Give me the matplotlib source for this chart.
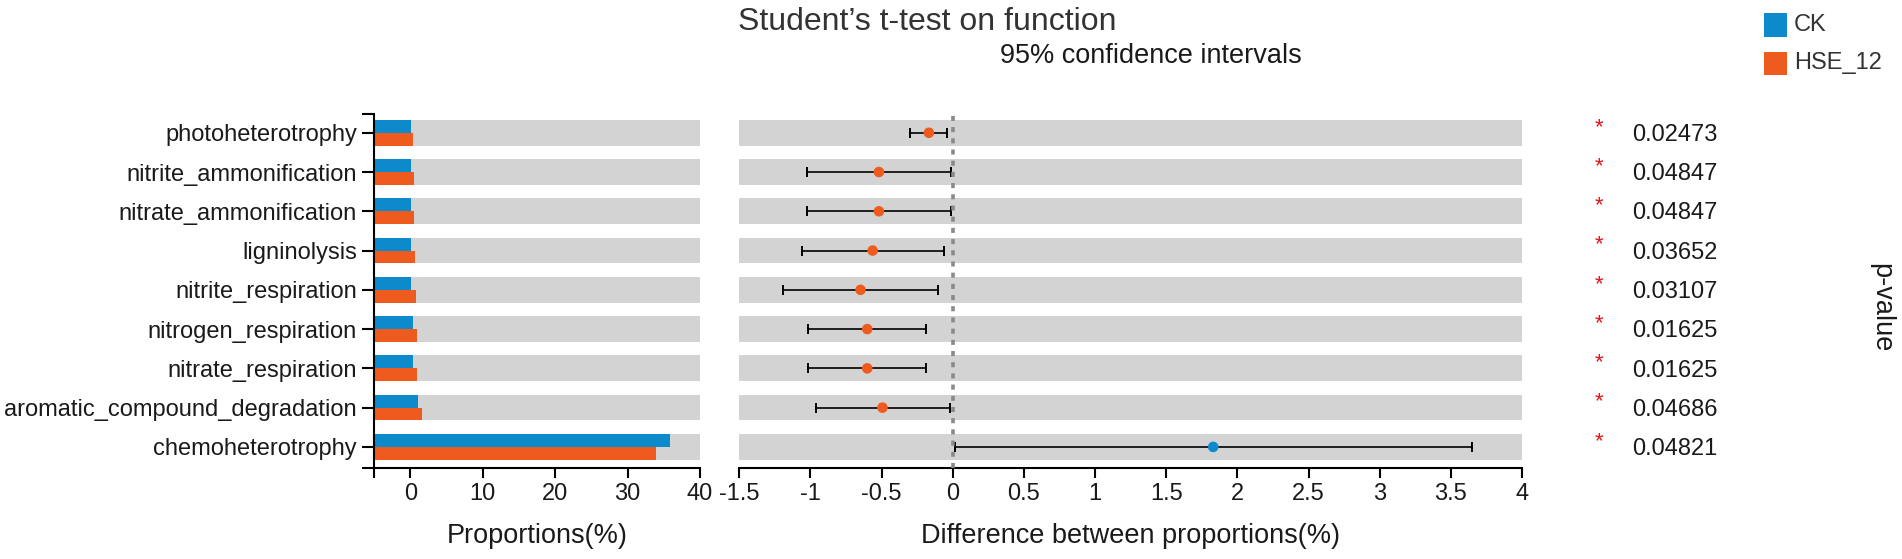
import numpy as np
import matplotlib
matplotlib.use('Agg')
import matplotlib.pyplot as plt
from matplotlib.transforms import ScaledTranslation
from matplotlib.patches import Rectangle

# ---------------- data ----------------
categories = ['photoheterotrophy', 'nitrite_ammonification', 'nitrate_ammonification',
              'ligninolysis', 'nitrite_respiration', 'nitrogen_respiration',
              'nitrate_respiration', 'aromatic_compound_degradation', 'chemoheterotrophy']
groups = ['CK', 'HSE_12']
ck_prop = [0.13, 0.02, 0.02, 0.02, 0.13, 0.32, 0.32, 1.05, 35.85]
hse_prop = [0.32, 0.52, 0.52, 0.60, 0.78, 0.96, 0.96, 1.56, 33.96]
diff_mean = [-0.168, -0.519, -0.519, -0.563, -0.648, -0.601, -0.601, -0.494, 1.83]
ci_low = [-0.297, -1.027, -1.027, -1.062, -1.196, -1.014, -1.014, -0.964, 0.014]
ci_high = [-0.040, -0.012, -0.012, -0.065, -0.102, -0.187, -0.187, -0.021, 3.65]
p_values = ['0.02473', '0.04847', '0.04847', '0.03652', '0.03107',
            '0.01625', '0.01625', '0.04686', '0.04821']
prop_ticks = [0, 10, 20, 30, 40]
diff_ticks = [-1.5, -1, -0.5, 0, 0.5, 1, 1.5, 2, 2.5, 3, 3.5, 4]
diff_tick_labels = ['-1.5', '-1', '-0.5', '0', '0.5', '1', '1.5', '2', '2.5', '3', '3.5', '4']

# ---------------- style ----------------
plt.rcParams['font.family'] = ['Liberation Sans', 'DejaVu Sans']
C_CK = '#0c8acb'
C_HSE = '#ef5a1f'
C_BAND = '#d3d3d3'
TXT = '#1a1a1a'
W, H = 1902, 559
PROP_MIN, PROP_MAX = -5, 40
DIFF_MIN, DIFF_MAX = -1.5, 4
Y_TOP, Y_BOT = -0.47, 8.53
TICK_LEN = 7
TICK_W = 1.5
TICK_FS = 17
LABEL_FS = 19.5

fig = plt.figure(figsize=(W / 100, H / 100), dpi=100)
ax_bottom = 1 - 467.7 / H
ax_h = (467.7 - 114.3) / H
ax1 = fig.add_axes([374.3 / W, ax_bottom, (700 - 374.3) / W, ax_h])
ax2 = fig.add_axes([739.3 / W, ax_bottom, (1522 - 739.3) / W, ax_h])

y = np.arange(len(categories))
ck = np.array(ck_prop)
hse = np.array(hse_prop)
dm = np.array(diff_mean)
lo = np.array(ci_low)
hi = np.array(ci_high)

band_h = 0.655
bar_h = band_h / 2

# ---------------- left panel ----------------
ax1.barh(y, PROP_MAX - PROP_MIN, left=PROP_MIN, height=band_h, color=C_BAND, zorder=1)
ax1.barh(y - bar_h / 2, ck - PROP_MIN, left=PROP_MIN, height=bar_h, color=C_CK, zorder=2)
ax1.barh(y + bar_h / 2, hse - PROP_MIN, left=PROP_MIN, height=bar_h, color=C_HSE, zorder=2)
ax1.set_xlim(PROP_MIN, PROP_MAX)
ax1.set_ylim(Y_BOT, Y_TOP)
ax1.set_yticks(y)
ax1.set_yticklabels(categories, fontsize=TICK_FS, color=TXT)
ax1.set_yticks([Y_TOP, Y_BOT], minor=True)
ax1.set_xticks(prop_ticks)
ax1.set_xticklabels([str(t) for t in prop_ticks], fontsize=TICK_FS, color=TXT)
ax1.set_xticks([PROP_MIN], minor=True)
for s in ['top', 'right']:
    ax1.spines[s].set_visible(False)
for s in ['left', 'bottom']:
    ax1.spines[s].set_linewidth(TICK_W)
    ax1.spines[s].set_color('black')
ax1.tick_params(axis='y', which='both', length=8.5, width=TICK_W, pad=4)
ax1.tick_params(axis='x', which='both', length=TICK_LEN, width=TICK_W, pad=4)
ax1.set_xlabel('Proportions(%)', fontsize=LABEL_FS, color=TXT, labelpad=13)

# ---------------- middle panel ----------------
ax2.barh(y, DIFF_MAX - DIFF_MIN, left=DIFF_MIN, height=band_h, color=C_BAND, zorder=1)
ax2.errorbar(dm, y, xerr=[dm - lo, hi - dm], fmt='none', ecolor='black',
             elinewidth=1.2, capsize=3.4, capthick=1.4, zorder=2)
ax2.axvline(0, color='#8a8a8a', lw=2.6, ls=(0, (1.4, 1.7)), zorder=3)
pt_colors = [C_HSE if d < 0 else C_CK for d in diff_mean]
ax2.scatter(dm, y, s=7.6 ** 2, c=pt_colors, zorder=4, linewidths=0)
ax2.set_xlim(DIFF_MIN, DIFF_MAX)
ax2.set_ylim(Y_BOT, Y_TOP)
ax2.set_yticks([])
ax2.set_xticks(diff_ticks)
ax2.set_xticklabels(diff_tick_labels, fontsize=TICK_FS, color=TXT)
for s in ['top', 'right', 'left']:
    ax2.spines[s].set_visible(False)
ax2.spines['bottom'].set_linewidth(TICK_W)
ax2.tick_params(axis='x', length=TICK_LEN, width=TICK_W, pad=4)
ax2.set_xlabel('Difference between proportions(%)', fontsize=LABEL_FS, color=TXT, labelpad=13)

# ---------------- p-values ----------------
ytr = ax2.get_yaxis_transform()
num_tr = ytr + ScaledTranslation(0, -0.082, fig.dpi_scale_trans)
star_tr = ytr + ScaledTranslation(0, 0.0, fig.dpi_scale_trans)
x_star = (1599 - 739.3) / (1522 - 739.3)
x_num = (1631.7 - 739.3) / (1522 - 739.3)
for yi, pv in zip(y, p_values):
    ax2.text(x_star, yi, '*', transform=star_tr, ha='center', va='baseline',
             fontsize=16, color='#e8141c', clip_on=False)
    ax2.text(x_num, yi, pv, transform=num_tr, ha='left', va='baseline',
             fontsize=TICK_FS, color=TXT, clip_on=False)

fig.text(1881 / W, 1 - 308 / H, 'p-value', rotation=-90, ha='center', va='center',
         fontsize=LABEL_FS, color=TXT)

# ---------------- titles ----------------
fig.text(738 / W, 1 - 22 / H, 'Student\u2019s t-test on function', ha='left', va='center',
         fontsize=23, color='#333333')
fig.text(1151 / W, 1 - 56 / H, '95% confidence intervals', ha='center', va='center',
         fontsize=LABEL_FS, color=TXT)

# ---------------- legend ----------------
leg_cols = [C_CK, C_HSE]
leg_y = [25.0, 63.3]
for g, c, yc in zip(groups, leg_cols, leg_y):
    fig.add_artist(Rectangle((1764.3 / W, 1 - (yc + 11.5) / H), 22.4 / W, 23 / H,
                             transform=fig.transFigure, color=c, lw=0))
    fig.text(1794 / W, 1 - yc / H, g, ha='left', va='center', fontsize=TICK_FS, color='#333333')

fig.savefig('out.png', dpi=100)
